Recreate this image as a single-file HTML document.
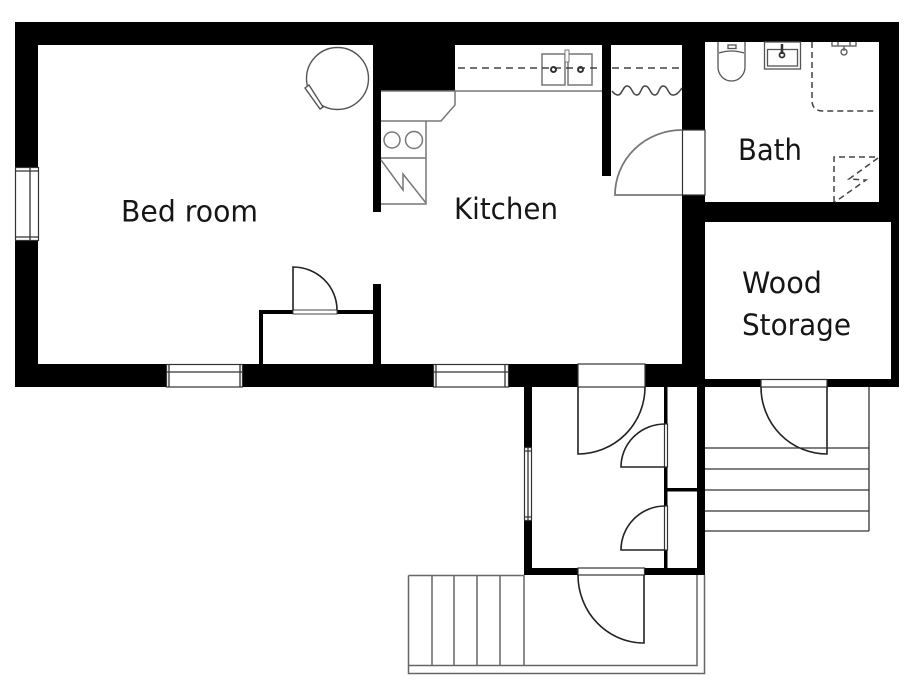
<!DOCTYPE html>
<html><head><meta charset="utf-8"><style>
html,body{margin:0;padding:0;background:#fff}
svg{display:block}
text{font-family:"DejaVu Sans","Liberation Sans",sans-serif;font-size:29px;fill:#161616}
</style></head><body>
<svg width="919" height="683" viewBox="0 0 919 683" xmlns="http://www.w3.org/2000/svg">
<rect width="919" height="683" fill="#fff"/>
<!-- main black mass -->
<rect x="15" y="22" width="884" height="365" fill="#000"/>
<!-- rooms -->
<path d="M38 45H373V364H38Z" fill="#fff"/>
<path d="M381 91H455V45H602V176H611V45H682V364H381Z" fill="#fff"/>
<rect x="373" y="212" width="8" height="72" fill="#fff"/>
<rect x="705" y="42" width="174" height="160" fill="#fff"/>
<rect x="705" y="222" width="186" height="157" fill="#fff"/>
<!-- closet walls in bedroom -->
<rect x="259" y="310" width="114" height="4" fill="#000"/>
<rect x="259" y="310" width="4" height="54" fill="#000"/>
<rect x="373" y="284" width="8" height="80" fill="#000"/>
<g fill="#fff" stroke="#444" stroke-width="1">
<rect x="293" y="310" width="44" height="4"/>
</g>
<!-- lower walls -->
<rect x="524" y="387" width="8" height="188" fill="#000"/>
<rect x="524" y="568" width="181" height="7" fill="#000"/>
<rect x="697" y="387" width="8" height="188" fill="#000"/>
<rect x="664" y="387" width="3.5" height="181" fill="#000"/>
<rect x="667" y="488" width="30" height="3.5" fill="#000"/>
<!-- windows -->
<g fill="#fff" stroke="#333" stroke-width="1.2">
<rect x="15.5" y="167.5" width="23" height="73"/>
<rect x="166.5" y="364.5" width="76" height="22.500"/>
<rect x="433.5" y="364.5" width="75" height="22.500"/>
<rect x="524.5" y="447.5" width="7" height="73"/>
<rect x="578" y="364" width="67" height="23"/>
<rect x="682.5" y="130" width="22.500" height="65"/>
<rect x="761" y="379.5" width="66" height="7.500"/>
<rect x="578" y="568" width="66.500" height="7"/>
<rect x="664.5" y="424" width="3" height="43"/>
<rect x="664.5" y="506" width="3" height="44"/>
</g>
<g fill="none" stroke="#333" stroke-width="1.3">
<path d="M15 171H38M15 237H38M30 168V240"/>
<path d="M169 364V387M240 364V387M167 372H242"/>
<path d="M436 364V387M505 364V387M434 372H508"/>
<path d="M528 448V520M525 451H531M525 517H531"/>
</g>
<!-- doors -->
<g fill="none" stroke="#222" stroke-width="1.600">
<path d="M293 310V267A44 43 0 0 1 337 310"/>
<path d="M578 387V454A67 67 0 0 0 645 387"/>
<path d="M665 467H621A44 43 0 0 1 665 424"/>
<path d="M665 550H621A44 44 0 0 1 665 506"/>
<path d="M827 387V454A66 67 0 0 1 761 387"/>
<path d="M644 575V643A66 68 0 0 1 578 575"/>
</g>
<path d="M682 195H615A67 65 0 0 1 682 130" fill="none" stroke="#777" stroke-width="1.800"/>
<!-- front steps -->
<g fill="none" stroke="#333" stroke-width="1.300">
<path d="M705 448H869M705 469H869M705 490H869M705 511H869M705 531H869M869 387V531"/>
</g>
<g fill="none" stroke="#666" stroke-width="1.500">
<path d="M408.5 575.5H524M408.5 575.5V673.5H704.5V575"/>
<path d="M408.5 665.5H697V575"/>
<path d="M432 575V665M454 575V665M477 575V665M500 575V665M524 575V665"/>
</g>
<!-- kitchen -->
<g fill="none" stroke="#777" stroke-width="1.500">
<path d="M455 91H602"/>
<path d="M381 91H455V105L441 121H381"/>
<path d="M426 121V204H381M381 158H426"/>
<circle cx="392" cy="140" r="8"/>
<circle cx="414" cy="140" r="8.500"/>
<rect x="542" y="54" width="23" height="31"/>
<rect x="568" y="54" width="24" height="31"/>
<path d="M381 160L403 190V174L426 203"/>
<path d="M612 91Q615 95 618 95C622 95 623 86 627 86C632 86 632 95 637 95C641 95 641 86 645 86C650 86 650 95 655 95C659 95 659 86 663 86C668 86 668 95 673 95C677 95 679 92 682 88" stroke="#444"/>
</g>
<rect x="565" y="50" width="4" height="12" fill="#fff" stroke="#777"/>
<g fill="none" stroke="#444" stroke-width="1.600" stroke-dasharray="7 5">
<path d="M458 68H602M612 68H682"/>
</g>
<circle cx="553.5" cy="69.500" r="2.500" fill="none" stroke="#333" stroke-width="2"/>
<circle cx="580.5" cy="69.500" r="2.500" fill="none" stroke="#333" stroke-width="2"/>
<!-- circle fixture -->
<g fill="#fff" stroke="#555" stroke-width="1.400">
<circle cx="337.5" cy="78.500" r="31"/>
<path d="M305 88L309 85L323 107L320 109Z"/>
</g>
<!-- bath fixtures -->
<g fill="none" stroke="#555" stroke-width="1.300">
<path d="M718 42V67A13.500 14 0 0 0 745 67V42"/>
<path d="M719 53Q731 49 744 53"/>
<rect x="728" y="45" width="8" height="3.500"/>
<rect x="764.5" y="42" width="36" height="27"/>
<rect x="767.5" y="49.500" width="30" height="16.500"/>
<path d="M782 44V54" stroke-width="2.500" stroke="#333"/>
<circle cx="782" cy="55" r="2.500" stroke-width="1.800" stroke="#333"/>
<path d="M832 42V46H856V42M838 42V46M850 42V46M844 46V51"/>
<circle cx="844" cy="52" r="3"/>
</g>
<g fill="none" stroke="#444" stroke-width="1.500" stroke-dasharray="6 4">
<path d="M812 42V100Q812 111 823 111H876"/>
<path d="M834 202V157H879"/>
<path d="M878 158L849 179L866 180L835 202"/>
</g>
<!-- labels -->
<text x="121" y="221.500" textLength="137" lengthAdjust="spacingAndGlyphs">Bed room</text>
<text x="454" y="219" textLength="104" lengthAdjust="spacingAndGlyphs">Kitchen</text>
<text x="738" y="160" textLength="64" lengthAdjust="spacingAndGlyphs">Bath</text>
<text x="742" y="293" textLength="80" lengthAdjust="spacingAndGlyphs">Wood</text>
<text x="742" y="335" textLength="109" lengthAdjust="spacingAndGlyphs">Storage</text>
</svg>
</body></html>
